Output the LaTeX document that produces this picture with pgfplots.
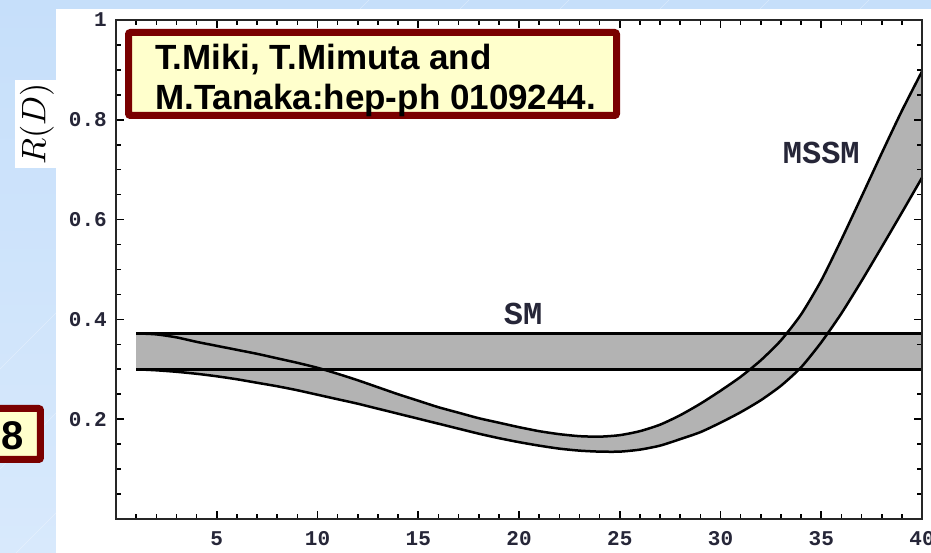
\documentclass[border=0pt]{standalone}
\usepackage{fontspec}
\setmainfont{Liberation Sans}
\newfontfamily\monofont{Liberation Mono}
\usepackage{pgfplots}
\pgfplotsset{compat=1.18}

\definecolor{slidetop}{HTML}{C6DFFA}
\definecolor{slidebot}{HTML}{D8E9FC}
\definecolor{boxred}{HTML}{7A0000}
\definecolor{boxfill}{HTML}{FFFFCC}
\definecolor{bandgray}{HTML}{B3B3B3}
\definecolor{tickink}{HTML}{262638}

\newcommand\plotfont{\monofont\bfseries}

% MSSM band: upper edge
\pgfplotstableread{
x    y
1    0.372
2    0.370
3    0.364
4    0.355
5    0.347
6    0.339
7    0.331
8    0.322
9    0.313
10   0.303
11   0.291
12   0.278
13   0.264
14   0.250
15   0.237
16   0.224
17   0.213
18   0.202
19   0.193
20   0.184
21   0.176
22   0.170
23   0.166
24   0.165
25   0.168
26   0.176
27   0.189
28   0.208
29   0.231
30   0.257
31   0.285
32   0.318
33   0.358
34   0.410
35   0.478
36   0.560
37   0.646
38   0.733
39   0.818
40   0.897
}\mssmup

% MSSM band: lower edge
\pgfplotstableread{
x    y
1    0.300
2    0.298
3    0.295
4    0.291
5    0.286
6    0.280
7    0.273
8    0.266
9    0.258
10   0.249
11   0.240
12   0.231
13   0.221
14   0.211
15   0.201
16   0.191
17   0.181
18   0.171
19   0.162
20   0.154
21   0.147
22   0.141
23   0.137
24   0.135
25   0.135
26   0.139
27   0.147
28   0.160
29   0.174
30   0.193
31   0.214
32   0.238
33   0.267
34   0.304
35   0.354
36   0.412
37   0.477
38   0.545
39   0.614
40   0.684
}\mssmlo

% MSSM band outline: upper edge left to right, lower edge right to left
\pgfplotstableread{
x    y
1    0.372
2    0.370
3    0.364
4    0.355
5    0.347
6    0.339
7    0.331
8    0.322
9    0.313
10   0.303
11   0.291
12   0.278
13   0.264
14   0.250
15   0.237
16   0.224
17   0.213
18   0.202
19   0.193
20   0.184
21   0.176
22   0.170
23   0.166
24   0.165
25   0.168
26   0.176
27   0.189
28   0.208
29   0.231
30   0.257
31   0.285
32   0.318
33   0.358
34   0.410
35   0.478
36   0.560
37   0.646
38   0.733
39   0.818
40   0.897
40   0.684
39   0.614
38   0.545
37   0.477
36   0.412
35   0.354
34   0.304
33   0.267
32   0.238
31   0.214
30   0.193
29   0.174
28   0.160
27   0.147
26   0.139
25   0.135
24   0.135
23   0.137
22   0.141
21   0.147
20   0.154
19   0.162
18   0.171
17   0.181
16   0.191
15   0.201
14   0.211
13   0.221
12   0.231
11   0.240
10   0.249
9    0.258
8    0.266
7    0.273
6    0.280
5    0.286
4    0.291
3    0.295
2    0.298
1    0.300
}\mssmband

% SM band
\pgfplotstableread{
x    y
1    0.372
40   0.372
40   0.300
1    0.300
}\smband

\begin{document}
\begin{tikzpicture}[x=1pt,y=1pt]
% slide background and white chart panel
\shade[top color=slidetop, bottom color=slidebot] (-116,-34) rectangle (815,519);
\foreach \d in {-300,-200,...,900}
  \draw[white, opacity=0.35, line width=0.6pt] (\d,-34) -- ++(560,560);
\fill[white] (-60,-34) rectangle (815,510);
\fill[white] (-101,351) rectangle (-60,439);
\node[rotate=90, scale=3.4] at (-79,395) {$R(D)$};

\begin{axis}[
  at={(0,0)}, anchor=south west,
  scale only axis, width=806pt, height=499pt,
  xmin=0, xmax=40, ymin=0, ymax=1,
  xtick={5,10,15,20,25,30,35,40},
  ytick={0.2,0.4,0.6,0.8,1},
  minor xtick={1,...,39},
  minor ytick={0.05,0.1,0.15,0.25,0.3,0.35,0.45,0.5,0.55,0.65,0.7,0.75,0.85,0.9,0.95},
  tick align=inside,
  major tick length=8pt, minor tick length=5pt,
  every tick/.style={black, line width=1.6pt},
  axis line style={line width=2.6pt, black!85},
  axis on top,
  /pgf/number format/assume math mode=true,
  /pgf/number format/fixed,
  tick label style={font=\plotfont\fontsize{21}{21}\selectfont, text=tickink, inner sep=0pt},
  xticklabel style={yshift=-12pt},
  yticklabel style={xshift=-9pt},
  clip=false,
]
  % bands
  \addplot[fill=bandgray, draw=none] table {\smband} -- cycle;
  \addplot[fill=bandgray, draw=none] table {\mssmband} -- cycle;
  % edges
  \addplot[black, line width=2.6pt] table {\smband};
  \addplot[black, line width=2.5pt, smooth, tension=0.4] table {\mssmup};
  \addplot[black, line width=2.5pt, smooth, tension=0.4] table {\mssmlo};
  \node[font=\plotfont\fontsize{32}{32}\selectfont, text=tickink] at (axis cs:20.2,0.41) {SM};
  \node[font=\plotfont\fontsize{32}{32}\selectfont, text=tickink] at (axis cs:35.0,0.734) {MSSM};
\end{axis}

% citation box
\draw[boxred, line width=7pt, fill=boxfill, rounded corners=2pt] (12.5,403.5) rectangle (500.5,486.5);
\node[anchor=base west, inner sep=0pt, font=\bfseries\fontsize{35}{35}\selectfont] at (39,449) {T.Miki, T.Mimuta and};
\node[anchor=base west, inner sep=0pt, font=\bfseries\fontsize{35}{35}\selectfont] at (39,409) {M.Tanaka:hep-ph 0109244.};

% page number box
\draw[boxred, line width=7pt, fill=boxfill, rounded corners=2pt] (-130,59.5) rectangle (-75.5,110.5);
\node[font=\bfseries\fontsize{40}{40}\selectfont] at (-103,83) {8};

\pgfresetboundingbox
\useasboundingbox (-116,-34) rectangle (815,519);
\end{tikzpicture}
\end{document}
